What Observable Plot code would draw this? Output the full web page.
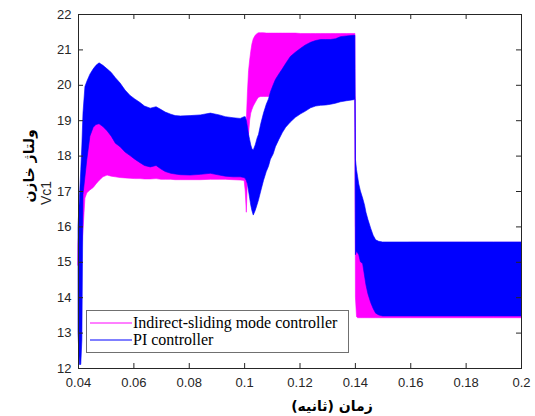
<!DOCTYPE html>
<html>
<head>
<meta charset="utf-8">
<script src="https://cdn.jsdelivr.net/npm/d3@7"></script>
<script src="https://cdn.jsdelivr.net/npm/@observablehq/plot@0.6"></script>
<style>
  html, body { margin: 0; padding: 0; background: #fff; }
  #chart { position: relative; width: 535px; height: 416px; }
</style>
</head>
<body>
<div id="chart"></div>
<script>
// time (s)
const t = [0.0400, 0.0405, 0.0410, 0.0414, 0.0418, 0.0425, 0.0432, 0.0443, 0.0455, 0.0465,
  0.0476, 0.0490, 0.0505, 0.0520, 0.0535, 0.0552, 0.0570, 0.0588, 0.0605, 0.0624,
  0.0640, 0.0661, 0.0682, 0.0700, 0.0715, 0.0735, 0.0751, 0.0770, 0.0805, 0.0842,
  0.0878, 0.0910, 0.0932, 0.0960, 0.0986, 0.1000, 0.1004, 0.1008, 0.1012, 0.1016,
  0.1020, 0.1024, 0.1028, 0.1033, 0.1040, 0.1047, 0.1052, 0.1060, 0.1070, 0.1080,
  0.1088, 0.1095, 0.1105, 0.1113, 0.1125, 0.1138, 0.1150, 0.1167, 0.1185, 0.1204,
  0.1220, 0.1240, 0.1258, 0.1276, 0.1295, 0.1312, 0.1330, 0.1348, 0.1370, 0.1396,
  0.1400, 0.1402, 0.1406, 0.1410, 0.1414, 0.1420, 0.1428, 0.1435, 0.1440, 0.1447,
  0.1457, 0.1466, 0.1475, 0.1486, 0.1500, 0.1600, 0.1700, 0.1800, 0.1900, 0.2000];

// PI controller envelope (upper / lower)
const piHigh = [16.0, 16.8, 17.6, 18.3, 19.2, 19.95, 20.1, 20.3, 20.45, 20.55,
  20.62, 20.55, 20.45, 20.35, 20.2, 20.05, 19.85, 19.7, 19.6, 19.5,
  19.4, 19.34, 19.38, 19.3, 19.23, 19.17, 19.13, 19.12, 19.13, 19.15,
  19.2, 19.15, 19.1, 19.07, 19.05, 19.1, 19.1, 19.0, 18.8, 18.6,
  18.45, 18.3, 18.2, 18.16, 18.3, 18.5, 18.6, 18.9, 19.2, 19.45,
  19.6, 19.8, 20.0, 20.15, 20.3, 20.45, 20.6, 20.8, 20.92, 21.03,
  21.12, 21.2, 21.25, 21.28, 21.28, 21.28, 21.3, 21.36, 21.38, 21.4,
  21.4, 17.9, 17.6, 17.4, 17.2, 17.0, 16.8, 16.6, 16.4, 16.2,
  15.95, 15.75, 15.62, 15.58, 15.56, 15.56, 15.56, 15.56, 15.56, 15.56];
const piLow = [13.0, 12.1, 12.1, 12.8, 16.9, 17.4, 17.9, 18.55, 18.8, 18.88,
  18.9, 18.82, 18.7, 18.55, 18.35, 18.25, 18.1, 18.0, 17.9, 17.8,
  17.72, 17.68, 17.72, 17.62, 17.55, 17.5, 17.48, 17.46, 17.45, 17.47,
  17.5, 17.45, 17.42, 17.4, 17.4, 17.38, 17.35, 17.3, 17.2, 17.0,
  16.8, 16.6, 16.45, 16.32, 16.45, 16.62, 16.75, 17.0, 17.3, 17.55,
  17.7, 17.9, 18.05, 18.25, 18.45, 18.65, 18.8, 18.95, 19.08, 19.18,
  19.25, 19.35, 19.4, 19.42, 19.43, 19.45, 19.48, 19.52, 19.55, 19.58,
  19.6, 15.2, 15.3, 15.25, 15.2, 15.0, 14.95, 14.6, 14.35, 14.1,
  13.85, 13.68, 13.55, 13.5, 13.47, 13.47, 13.47, 13.47, 13.47, 13.47];

// Indirect-sliding mode controller envelope (upper / lower)
const smcHigh = [15.5, 16.0, 16.5, 16.8, 17.2, 17.7, 18.2, 18.8, 19.0, 19.1,
  19.1, 19.05, 18.95, 18.8, 18.6, 18.5, 18.35, 18.25, 18.15, 18.05,
  17.95, 17.9, 17.95, 17.85, 17.8, 17.75, 17.7, 17.7, 17.7, 17.7,
  17.7, 17.7, 17.65, 17.65, 17.65, 17.7, 18.0, 19.0, 19.8, 20.4,
  20.7, 20.95, 21.15, 21.3, 21.4, 21.45, 21.47, 21.47, 21.47, 21.46,
  21.46, 21.46, 21.46, 21.46, 21.46, 21.46, 21.46, 21.46, 21.46, 21.45,
  21.45, 21.45, 21.45, 21.45, 21.45, 21.45, 21.45, 21.45, 21.45, 21.45,
  21.45, 16.0, 15.5, 15.5, 15.5, 15.5, 15.5, 15.5, 15.5, 15.5,
  15.5, 15.5, 15.5, 15.5, 15.5, 15.55, 15.55, 15.55, 15.55, 15.55];
const smcLow = [14.9, 14.9, 15.2, 15.5, 15.9, 16.8, 16.95, 17.03, 17.1, 17.2,
  17.3, 17.4, 17.45, 17.42, 17.4, 17.38, 17.37, 17.36, 17.35, 17.35,
  17.34, 17.34, 17.35, 17.33, 17.33, 17.33, 17.32, 17.32, 17.32, 17.32,
  17.33, 17.33, 17.33, 17.32, 17.31, 17.3, 17.0, 16.4, 17.4, 18.6,
  19.0, 19.2, 19.3, 19.4, 19.5, 19.6, 19.65, 19.67, 19.67, 19.67,
  19.67, 19.67, 19.67, 19.67, 19.67, 19.67, 19.67, 19.67, 19.67, 19.67,
  19.67, 19.67, 19.67, 19.67, 19.67, 19.67, 19.67, 19.67, 19.67, 19.67,
  19.67, 14.0, 13.45, 13.42, 13.42, 13.42, 13.42, 13.42, 13.42, 13.42,
  13.42, 13.42, 13.42, 13.42, 13.42, 13.42, 13.42, 13.42, 13.42, 13.42];

const xTicks = [0.04, 0.06, 0.08, 0.1, 0.12, 0.14, 0.16, 0.18, 0.2];
const xTickLabels = ["0.04", "0.06", "0.08", "0.1", "0.12", "0.14", "0.16", "0.18", "0.2"];
const yTicks = [12, 13, 14, 15, 16, 17, 18, 19, 20, 21, 22];
const seriesNames = ["Indirect-sliding mode controller", "PI controller"];
const seriesColors = ["#ff00ff", "#0000ff"];
const xLabel = "زمان (ثانیه)";
const yLabel1 = "ولتاژ خازن";
const yLabel2 = "Vc1";

const W = 535, H = 416;
const mL = 78, mR = 14, mT = 14, mB = 48;
const innerH = H - mT - mB, innerW = W - mL - mR;
const idx = d3.range(t.length);
const tickLen = 5;
const axisColor = "#262626";

const chart = Plot.plot({
  width: W, height: H,
  marginLeft: mL, marginRight: mR, marginTop: mT, marginBottom: mB,
  style: {fontFamily: "'Liberation Sans', Arial, sans-serif", fontSize: "13px", color: axisColor, background: "#fff"},
  x: {domain: [0.04, 0.2], label: null},
  y: {domain: [12, 22], label: null},
  marks: [
    Plot.areaY(idx, {x: i => t[i], y1: i => smcLow[i], y2: i => smcHigh[i], fill: seriesColors[0], stroke: seriesColors[0], strokeWidth: 0.6}),
    Plot.areaY(idx, {x: i => t[i], y1: i => piLow[i], y2: i => piHigh[i], fill: seriesColors[1], stroke: seriesColors[1], strokeWidth: 0.6}),
    Plot.tickX(xTicks, {x: d => d, insetBottom: innerH - tickLen, stroke: axisColor}),
    Plot.tickX(xTicks, {x: d => d, insetTop: innerH - tickLen, stroke: axisColor}),
    Plot.tickY(yTicks, {y: d => d, insetRight: innerW - tickLen, stroke: axisColor}),
    Plot.tickY(yTicks, {y: d => d, insetLeft: innerW - tickLen, stroke: axisColor}),
    Plot.axisX(xTicks, {tickSize: 0, tickPadding: 9, tickFormat: (d, i) => xTickLabels[i], fill: axisColor, fontSize: 13}),
    Plot.axisY(yTicks, {tickSize: 0, tickPadding: 7, fill: axisColor, fontSize: 13}),
    Plot.frame({stroke: axisColor, strokeWidth: 1})
  ]
});

const root = document.getElementById("chart");
root.appendChild(chart);
const svg = d3.select(chart);

// axis titles
svg.append("text")
  .attr("x", 332).attr("y", 411)
  .attr("text-anchor", "middle")
  .attr("direction", "rtl")
  .style("font-family", "'DejaVu Sans', sans-serif")
  .style("font-weight", "bold").style("font-size", "14px")
  .attr("fill", "#000")
  .text(xLabel);
svg.append("text")
  .attr("transform", "translate(34,166) rotate(-90)")
  .attr("text-anchor", "middle")
  .attr("direction", "rtl")
  .style("font-family", "'DejaVu Sans', sans-serif")
  .style("font-weight", "bold").style("font-size", "14px")
  .attr("fill", "#000")
  .text(yLabel1);
svg.append("text")
  .attr("transform", "translate(51,193) rotate(-90)")
  .attr("text-anchor", "middle")
  .style("font-family", "'Liberation Sans', Arial, sans-serif")
  .style("font-size", "14px")
  .attr("fill", "#262626")
  .text(yLabel2);

// legend
const lg = svg.append("g");
lg.append("rect").attr("x", 86.5).attr("y", 310.5).attr("width", 262).attr("height", 42)
  .attr("fill", "#fff").attr("stroke", "#707070").attr("stroke-width", 1);
seriesNames.forEach((name, i) => {
  const yy = 323 + i * 17;
  lg.append("line").attr("x1", 90).attr("x2", 132).attr("y1", yy).attr("y2", yy)
    .attr("stroke", seriesColors[i]).attr("stroke-width", 1);
  lg.append("text").attr("x", 133).attr("y", yy + 5)
    .attr("text-anchor", "start")
    .style("font-family", "'Liberation Serif', 'Times New Roman', serif")
    .style("font-size", "16px").attr("fill", "#000").text(name);
});
</script>
</body>
</html>
